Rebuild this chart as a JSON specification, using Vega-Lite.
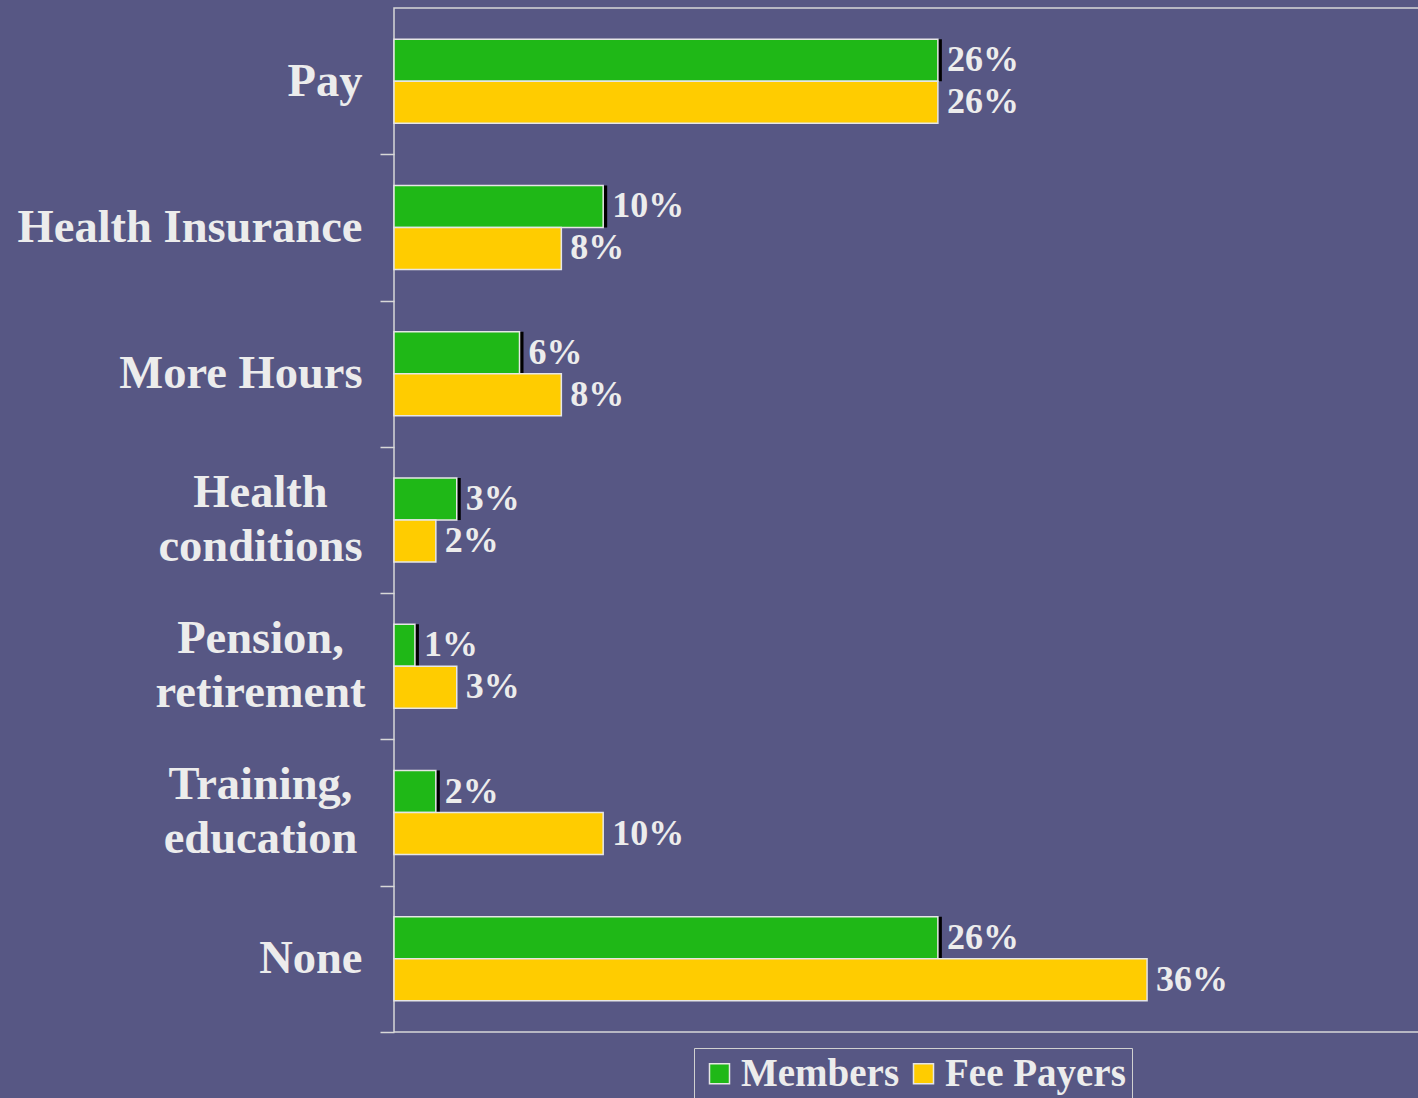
{
  "$schema": "https://vega.github.io/schema/vega-lite/v6.json",
  "width": 1025,
  "height": 1024,
  "autosize": {"type": "none"},
  "padding": {"left": 394, "top": 8, "right": 0, "bottom": 66},
  "background": "#575784",
  "config": {
    "font": "Liberation Serif",
    "view": {"stroke": "#d8d8d8", "strokeWidth": 1.5},
    "legend": {
      "padding": 6,
      "strokeColor": "#d0d0d0",
      "symbolType": "square",
      "symbolSize": 400,
      "symbolStrokeColor": "#e6e6e6",
      "symbolStrokeWidth": 1.5,
      "symbolOpacity": 1,
      "labelFont": "Liberation Serif",
      "labelFontSize": 39,
      "labelFontWeight": "bold",
      "labelColor": "#ececec",
      "labelLimit": 0,
      "columnPadding": 4,
      "labelOffset": 2
    }
  },
  "data": {
    "values": [
      {"cat": "Pay", "series": "Members", "value": 0.26},
      {"cat": "Pay", "series": "Fee Payers", "value": 0.26},
      {"cat": "Health Insurance", "series": "Members", "value": 0.10},
      {"cat": "Health Insurance", "series": "Fee Payers", "value": 0.08},
      {"cat": "More Hours", "series": "Members", "value": 0.06},
      {"cat": "More Hours", "series": "Fee Payers", "value": 0.08},
      {"cat": "Health|conditions", "series": "Members", "value": 0.03},
      {"cat": "Health|conditions", "series": "Fee Payers", "value": 0.02},
      {"cat": "Pension,|retirement", "series": "Members", "value": 0.01},
      {"cat": "Pension,|retirement", "series": "Fee Payers", "value": 0.03},
      {"cat": "Training,|education", "series": "Members", "value": 0.02},
      {"cat": "Training,|education", "series": "Fee Payers", "value": 0.10},
      {"cat": "None", "series": "Members", "value": 0.26},
      {"cat": "None", "series": "Fee Payers", "value": 0.36}
    ]
  },
  "encoding": {
    "y": {
      "field": "cat",
      "type": "nominal",
      "sort": ["Pay", "Health Insurance", "More Hours", "Health|conditions", "Pension,|retirement", "Training,|education", "None"],
      "scale": {"paddingInner": 0.426, "paddingOuter": 0.213},
      "axis": {
        "title": null,
        "domain": false,
        "ticks": true,
        "tickSize": 14,
        "tickOffset": 73.14,
        "tickColor": "#d8d8d8",
        "tickWidth": 1.5,
        "labelOffset": -73.14,
        "labelPadding": 18,
        "labelAlign": {"condition": {"test": "indexof(datum.value, '|') >= 0", "value": "center"}, "value": "right"},
        "labelBaseline": {"condition": {"test": "indexof(datum.value, '|') >= 0", "value": "line-bottom"}, "value": "middle"},
        "labelFont": "Liberation Serif",
        "labelFontSize": 46.5,
        "labelFontWeight": "bold",
        "labelColor": "#ececec",
        "labelLimit": 0,
        "labelLineHeight": 54,
        "labelExpr": "split(datum.label, '|')",
        "encoding": {
          "labels": {
            "dx": {"condition": {"test": "indexof(datum.value, '|') >= 0", "value": -102}, "value": 0}
          }
        }
      }
    },
    "yOffset": {
      "field": "series",
      "type": "nominal",
      "sort": ["Members", "Fee Payers"],
      "scale": {"paddingInner": 0, "paddingOuter": 0}
    },
    "x": {
      "field": "value",
      "type": "quantitative",
      "scale": {"domain": [0, 0.49], "nice": false},
      "axis": null
    }
  },
  "layer": [
    {
      "transform": [{"filter": "datum.series === 'Members'"}],
      "mark": {"type": "bar", "color": "#000000", "xOffset": 4, "yOffset": 4}
    },
    {
      "mark": {"type": "bar", "stroke": "#e6e6e6", "strokeWidth": 1.5},
      "encoding": {
        "color": {
          "field": "series",
          "type": "nominal",
          "sort": ["Members", "Fee Payers"],
          "scale": {"domain": ["Members", "Fee Payers"], "range": ["#1fb817", "#ffcc00"]},
          "legend": {"title": null, "orient": "none", "direction": "horizontal", "legendX": 300, "legendY": 1040}
        }
      }
    },
    {
      "mark": {
        "type": "text",
        "align": "left",
        "baseline": "middle",
        "dx": 9,
        "font": "Liberation Serif",
        "fontSize": 36,
        "fontWeight": "bold",
        "color": "#ececec"
      },
      "encoding": {
        "text": {"field": "value", "type": "quantitative", "format": ".0%"}
      }
    }
  ]
}
